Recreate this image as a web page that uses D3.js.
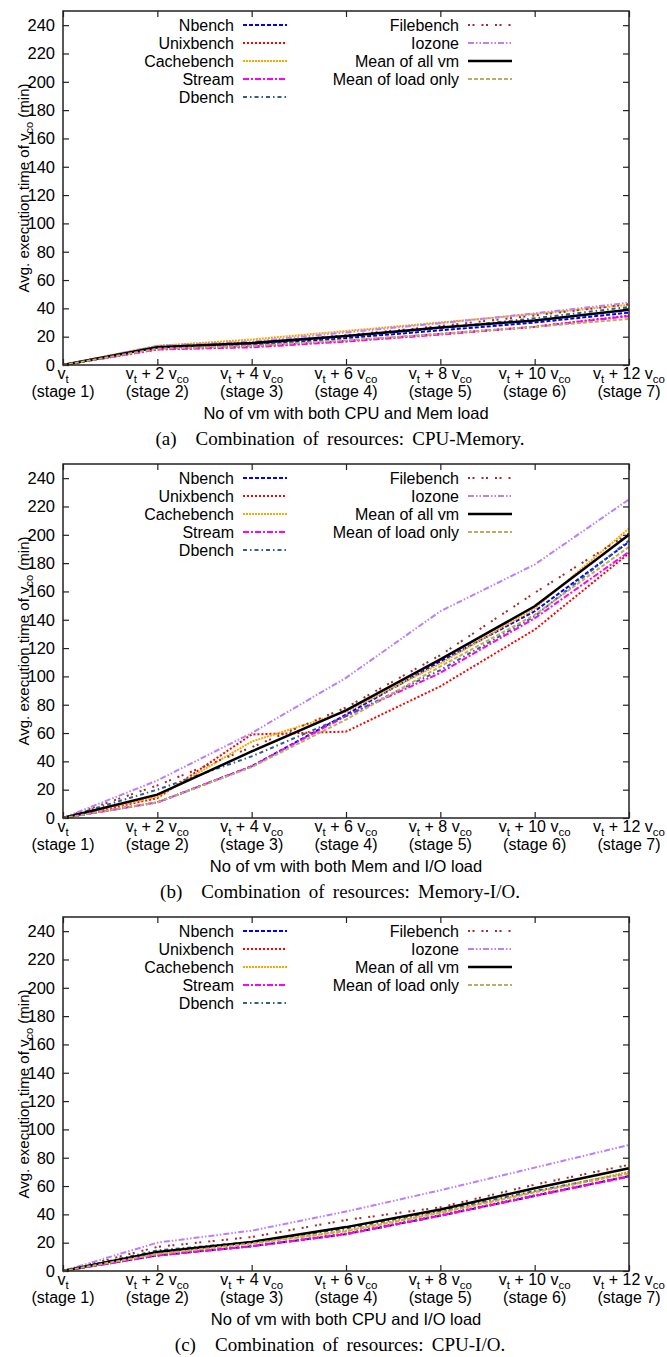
<!DOCTYPE html>
<html>
<head>
<meta charset="utf-8">
<script src="https://cdn.jsdelivr.net/npm/d3@7"></script>
<style>
body { margin: 0; background: #fff; }
svg text { font-family: "Liberation Sans", Arial, sans-serif; fill: #000; }
svg text.cap { font-family: "Liberation Serif", "Times New Roman", serif; }
</style>
</head>
<body>
<svg id="chart" width="667" height="1357"></svg>
<script>
// series, in legend order
var seriesNames = ["Nbench", "Unixbench", "Cachebench", "Stream", "Dbench",
                   "Filebench", "Iozone", "Mean of all vm", "Mean of load only"];
var vcoCount = [0, 2, 4, 6, 8, 10, 12];
var stageNums = [1, 2, 3, 4, 5, 6, 7];
var yTicks = [0, 20, 40, 60, 80, 100, 120, 140, 160, 180, 200, 220, 240];

// (a) CPU-Memory, one row per series
var cpuMem = [
    [0, 12, 14, 19, 24.5, 30, 37],
    [0, 11, 13, 17, 22, 27, 35],
    [0, 13.5, 18, 24, 30, 36, 42.5],
    [0, 11, 12.5, 16.5, 21.5, 27, 34.5],
    [0, 12.5, 15, 20, 26, 33, 41],
    [0, 13, 15.5, 21, 27.5, 35, 43],
    [0, 13.5, 16.5, 23, 29.5, 36.5, 44],
    [0, 12.5, 15.5, 20.5, 26.5, 31.5, 39],
    [0, 11.5, 13.5, 17.5, 22, 27, 32.5]
];
// (b) Memory-I/O
var memIO = [
    [0, 11, 36.5, 73, 110.5, 146, 195],
    [0, 14, 59, 61, 93, 133, 187],
    [0, 15, 54, 75, 109, 148, 204.5],
    [0, 11, 36.5, 72, 102.5, 141, 188],
    [0, 20, 43.5, 72, 104.5, 142.5, 196],
    [0, 23, 50, 78, 115, 159, 201],
    [0, 26.5, 60, 99, 146, 179, 225],
    [0, 16.5, 47, 76, 112, 149.5, 200],
    [0, 11, 36, 69.5, 107, 143.5, 191.5]
];
// (c) CPU-I/O
var cpuIO = [
    [0, 11, 17.5, 26, 39, 53, 67],
    [0, 11, 17.5, 26.5, 39.5, 53.5, 67],
    [0, 12, 19.5, 28.5, 41.5, 56, 70],
    [0, 11, 17.5, 26, 39, 53, 66.5],
    [0, 14.5, 20.5, 30, 42.5, 56.5, 69],
    [0, 17, 24, 36, 45, 61, 75],
    [0, 20, 28.5, 42, 57, 73, 89],
    [0, 13.5, 20.5, 31, 43.5, 58.5, 72.5],
    [0, 12, 19.5, 28, 41, 55.5, 69]
];

var panels = [
    {data: cpuMem, xlabel: "No of vm with both CPU and Mem load", tag: "(a)", caption: "Combination of resources: CPU-Memory."},
    {data: memIO, xlabel: "No of vm with both Mem and I/O load", tag: "(b)", caption: "Combination of resources: Memory-I/O."},
    {data: cpuIO, xlabel: "No of vm with both CPU and I/O load", tag: "(c)", caption: "Combination of resources: CPU-I/O."}
];

var styles = [
    {color: "#0000ff", dash: "4,2", w: 2},
    {color: "#ff0000", dash: "2,2", w: 2},
    {color: "#ffa500", dash: "2,1", w: 2},
    {color: "#ff00ff", dash: "6,2,2,2", w: 2},
    {color: "#2f5f8f", dash: "4,3,1.5,3", w: 2},
    {color: "#a52a2a", dash: "2,2.5,2,7", w: 2},
    {color: "#b880ff", dash: "6,2,1.5,2,1.5,2", w: 2},
    {color: "#000000", dash: null, w: 2.5},
    {color: "#bdae5f", dash: "4,2", w: 2}
];

var svg = d3.select("#chart");
var left = 63, right = 629, plotH = 354, step = 453, top0 = 11;
var fs = "16px", subFs = "11.5px";

var x = d3.scalePoint().domain(stageNums).range([left, right]);

panels.forEach(function(p, pi) {
    var top = top0 + pi * step, bottom = top + plotH;
    var y = d3.scaleLinear().domain([0, 250]).range([bottom, top]);
    var g = svg.append("g");

    // y axis + mirrored ticks
    var yl = g.append("g").attr("transform", "translate(" + left + ",0)")
        .call(d3.axisLeft(y).tickValues(yTicks).tickSize(-6).tickPadding(8));
    g.append("g").attr("transform", "translate(" + right + ",0)")
        .call(d3.axisRight(y).tickValues(yTicks).tickSize(-6).tickFormat(""));
    g.append("g").attr("transform", "translate(0," + bottom + ")")
        .call(d3.axisBottom(x).tickSize(-6).tickFormat(""));
    g.append("g").attr("transform", "translate(0," + top + ")")
        .call(d3.axisTop(x).tickSize(-6).tickFormat(""));
    g.selectAll(".domain").remove();
    g.selectAll(".tick line").attr("stroke", "#222").attr("stroke-width", 1.2);
    yl.selectAll("text").style("font-size", "16.5px").attr("fill", "#000");

    // x tick labels with subscripts
    stageNums.forEach(function(s, k) {
        var t = g.append("text").attr("x", x(s)).attr("y", bottom + 14)
            .attr("text-anchor", "middle").style("font-size", fs);
        t.append("tspan").text("v");
        t.append("tspan").attr("dy", 3.5).style("font-size", subFs).text("t");
        if (vcoCount[k] > 0) {
            t.append("tspan").attr("dy", -3.5).text(" + " + vcoCount[k] + " v");
            t.append("tspan").attr("dy", 3.5).style("font-size", subFs).text("co");
        }
        g.append("text").attr("x", x(s)).attr("y", bottom + 32)
            .attr("text-anchor", "middle").style("font-size", fs)
            .text("(stage " + s + ")");
    });

    // y label
    var yt = g.append("text")
        .attr("transform", "translate(29," + (top + plotH / 2) + ") rotate(-90)")
        .attr("text-anchor", "middle").style("font-size", "15px");
    yt.append("tspan").text("Avg. execution time of v");
    yt.append("tspan").attr("dy", 4).style("font-size", "11px").text("co");
    yt.append("tspan").attr("dy", -4).text(" (min)");

    g.append("text").attr("x", (left + right) / 2).attr("y", bottom + 54)
        .attr("text-anchor", "middle").style("font-size", "16.5px").text(p.xlabel);

    var cap = g.append("text").attr("class", "cap").attr("x", 340).attr("y", bottom + 80)
        .attr("text-anchor", "middle").style("font-size", "19px")
        .style("word-spacing", "3.5px");
    cap.append("tspan").text(p.tag + "\u2003");
    cap.append("tspan").text(p.caption);

    // lines
    var line = d3.line()
        .x(function(d, i) { return x(stageNums[i]); })
        .y(function(d) { return y(d); });
    p.data.forEach(function(vals, si) {
        var st = styles[si];
        g.append("path").datum(vals)
            .attr("d", line)
            .attr("fill", "none")
            .attr("stroke", st.color)
            .attr("stroke-width", st.w)
            .attr("stroke-dasharray", st.dash);
    });

    // legend
    seriesNames.forEach(function(name, si) {
        var col = si < 5 ? 0 : 1, row = si < 5 ? si : si - 5;
        var lx = col === 0 ? 234 : 459;
        var ly = top + 14 + row * 18;
        var st = styles[si];
        g.append("text").attr("x", lx).attr("y", ly + 5.5)
            .attr("text-anchor", "end").style("font-size", "16px").text(name);
        g.append("line").attr("x1", lx + 9).attr("x2", lx + 53)
            .attr("y1", ly).attr("y2", ly)
            .attr("stroke", st.color).attr("stroke-width", st.w)
            .attr("stroke-dasharray", st.dash);
    });

    // border
    g.append("rect").attr("x", left).attr("y", top)
        .attr("width", right - left).attr("height", plotH)
        .attr("fill", "none").attr("stroke", "#222").attr("stroke-width", 1.5);
});
</script>
</body>
</html>
